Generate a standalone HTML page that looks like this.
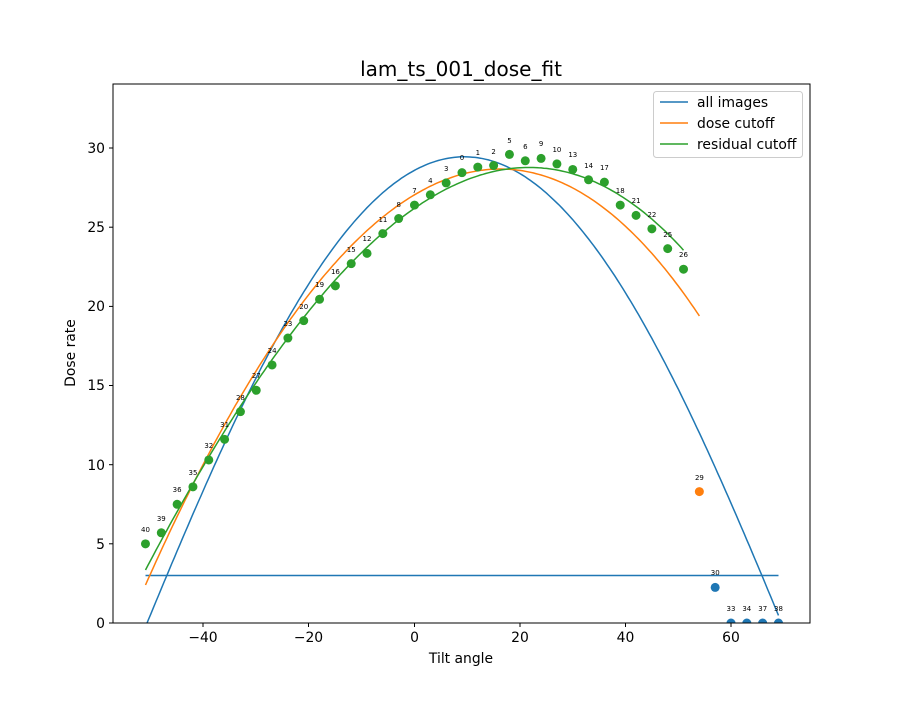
<!DOCTYPE html>
<html><head><meta charset="utf-8"><style>
body{margin:0;background:#fff}
svg text{font-family:"DejaVu Sans","Liberation Sans",sans-serif}
</style></head><body>
<svg id="s" width="900" height="700" xmlns="http://www.w3.org/2000/svg">
<defs><clipPath id="c"><rect x="113" y="84" width="697" height="539"/></clipPath></defs>
<rect width="900" height="700" fill="#fff"/>
<g id="curves" clip-path="url(#c)"></g>
<g id="pts" clip-path="url(#c)"></g>
<rect x="113" y="84" width="697" height="539" fill="none" stroke="#000" stroke-width="1"/>
<g stroke="#000" stroke-width="1">
<line x1="203" y1="623" x2="203" y2="627"/><line x1="308.5" y1="623" x2="308.5" y2="627"/><line x1="414.5" y1="623" x2="414.5" y2="627"/><line x1="520" y1="623" x2="520" y2="627"/><line x1="625.5" y1="623" x2="625.5" y2="627"/><line x1="731" y1="623" x2="731" y2="627"/>
<line x1="109" y1="623" x2="113" y2="623"/><line x1="109" y1="543.8" x2="113" y2="543.8"/><line x1="109" y1="464.7" x2="113" y2="464.7"/><line x1="109" y1="385.5" x2="113" y2="385.5"/><line x1="109" y1="306.4" x2="113" y2="306.4"/><line x1="109" y1="227.2" x2="113" y2="227.2"/><line x1="109" y1="148" x2="113" y2="148"/>
</g>
<g font-size="13.9" text-anchor="middle">
<text x="203" y="642">−40</text><text x="308.5" y="642">−20</text><text x="414.5" y="642">0</text><text x="520" y="642">20</text><text x="625.5" y="642">40</text><text x="731" y="642">60</text>
</g>
<g font-size="13.9" text-anchor="end">
<text x="105" y="628">0</text><text x="105" y="549">5</text><text x="105" y="470">10</text><text x="105" y="390">15</text><text x="105" y="311">20</text><text x="105" y="232">25</text><text x="105" y="153">30</text>
</g>
<text x="461" y="663" font-size="13.9" text-anchor="middle">Tilt angle</text>
<text x="75" y="353" font-size="13.9" text-anchor="middle" transform="rotate(-90 75 353)">Dose rate</text>
<text x="461" y="76" font-size="20" text-anchor="middle">lam_ts_001_dose_fit</text>
<g font-size="7" text-anchor="middle">
<text x="145.5" y="532">40</text><text x="161.3" y="521">39</text><text x="177.1" y="492">36</text><text x="193" y="475">35</text><text x="208.8" y="448">32</text><text x="224.6" y="427">31</text><text x="240.4" y="400">28</text><text x="256.3" y="378">27</text><text x="272.1" y="353">24</text><text x="287.9" y="326">23</text><text x="303.7" y="309">20</text><text x="319.6" y="287">19</text><text x="335.4" y="274">16</text><text x="351.2" y="252">15</text><text x="367" y="241">12</text><text x="382.9" y="222">11</text><text x="398.7" y="207">8</text><text x="414.5" y="193">7</text><text x="430.3" y="183">4</text><text x="446.2" y="171">3</text><text x="462" y="160">0</text><text x="477.8" y="155">1</text><text x="493.6" y="154">2</text><text x="509.5" y="143">5</text><text x="525.3" y="149">6</text><text x="541.1" y="146">9</text><text x="556.9" y="152">10</text><text x="572.8" y="157">13</text><text x="588.6" y="168">14</text><text x="604.4" y="170">17</text><text x="620.2" y="193">18</text><text x="636.1" y="203">21</text><text x="651.9" y="217">22</text><text x="667.7" y="237">25</text><text x="683.5" y="257">26</text><text x="699.4" y="480">29</text><text x="715.2" y="575">30</text><text x="731" y="611">33</text><text x="746.8" y="611">34</text><text x="762.7" y="611">37</text><text x="778.5" y="611">38</text>
</g>
<rect x="653.5" y="91.5" width="149" height="66" rx="3" fill="#fff" fill-opacity="0.8" stroke="#ccc"/>
<line x1="660" y1="102" x2="688" y2="102" stroke="#1f77b4" stroke-width="1.5"/>
<line x1="660" y1="123" x2="688" y2="123" stroke="#ff7f0e" stroke-width="1.5"/>
<line x1="660" y1="144" x2="688" y2="144" stroke="#2ca02c" stroke-width="1.5"/>
<g font-size="13.9"><text x="697" y="107">all images</text><text x="697" y="128">dose cutoff</text><text x="697" y="149">residual cutoff</text></g>
</svg>
<script>
var NS="http://www.w3.org/2000/svg";
function X(x){return 414.5+5.275*x}function Y(y){return 623-15.83*y}
function path(f,a,b,col){var d="";for(var x=a;x<=b+1e-9;x+=0.5){d+=(d?"L":"M")+X(x).toFixed(1)+","+Y(f(x)).toFixed(1)}
var p=document.createElementNS(NS,"path");p.setAttribute("d",d);p.setAttribute("fill","none");p.setAttribute("stroke",col);p.setAttribute("stroke-width","1.5");document.getElementById("curves").appendChild(p)}
path(function(x){var t=(x-9.45)/60.15,t2=t*t;return 29.45*(1-t2)*(1-0.177*t2)},-51,69,"#1f77b4");
path(function(x){return 3},-51,69,"#1f77b4");
path(function(x){return 27.05+0.1984*x-0.005933*x*x-6.77e-6*x*x*x},-51,54,"#ff7f0e");
path(function(x){return 26.2+0.2311*x-0.004902*x*x-1.272e-5*x*x*x},-51,51,"#2ca02c");
var ys=[5.0,5.7,7.5,8.6,10.3,11.6,13.35,14.7,16.3,18.0,19.1,20.45,21.3,22.7,23.35,24.6,25.55,26.4,27.05,27.8,28.45,28.8,28.9,29.6,29.2,29.35,29.0,28.65,28.0,27.85,26.4,25.75,24.9,23.65,22.35,8.3,2.25,0,0,0,0];
var g=document.getElementById("pts");
for(var i=0;i<ys.length;i++){var x=-51+3*i;var c=document.createElementNS(NS,"circle");c.setAttribute("cx",X(x));c.setAttribute("cy",Y(ys[i]));c.setAttribute("r","4.5");c.setAttribute("fill",x<=51?"#2ca02c":(x==54?"#ff7f0e":"#1f77b4"));g.appendChild(c)}
</script>
</body></html>
